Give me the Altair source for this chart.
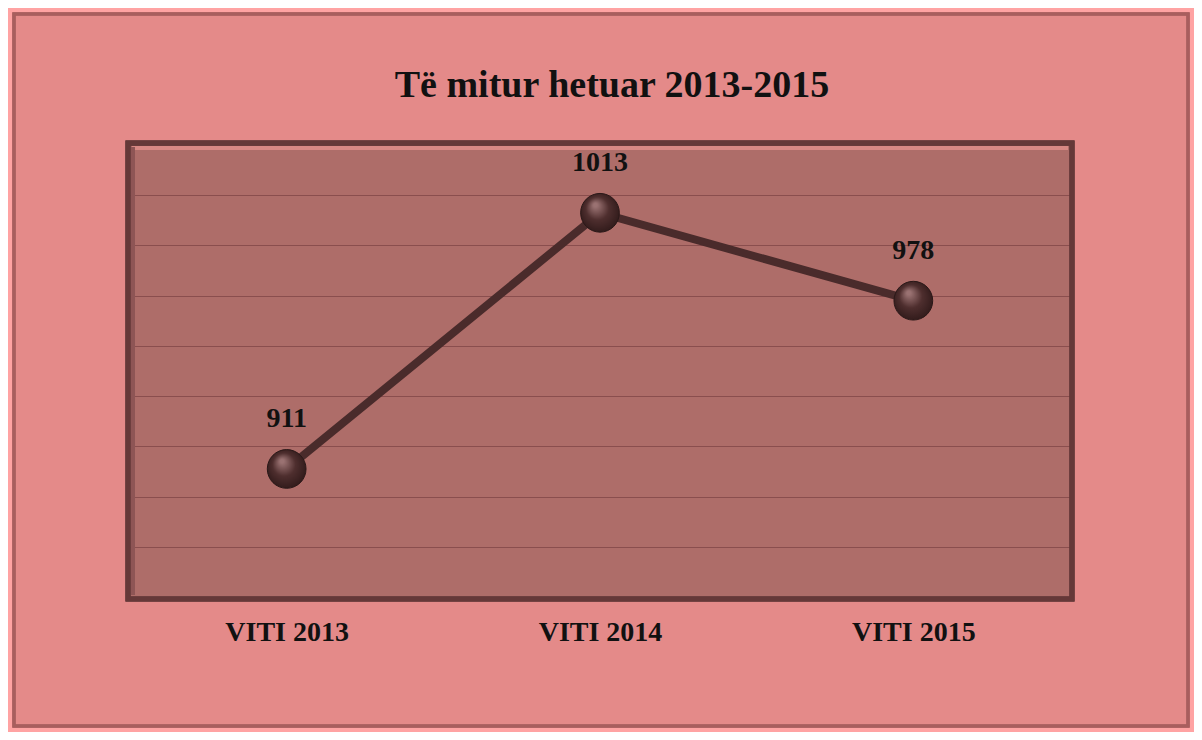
import altair as alt
import pandas as pd

years = ["VITI 2013", "VITI 2014", "VITI 2015"]
values = [911, 1013, 978]
title_text = "Të mitur hetuar 2013-2015"

df = pd.DataFrame({"year": years, "value": values})

SERIF = "Liberation Serif"

x = alt.X("year:N", sort=years, title=None,
          scale=alt.Scale(type="point", padding=0.5),
          axis=alt.Axis(labelFont=SERIF, labelFontSize=28, labelFontWeight="bold",
                        labelColor="#111111", labelPadding=21, ticks=False, domain=False,
                        labelAngle=0, grid=False))
y = alt.Y("value:Q", title=None,
          scale=alt.Scale(domain=[860, 1040], nice=False, zero=False),
          axis=alt.Axis(values=list(range(860, 1041, 20)), labels=False, ticks=False,
                        domain=False, grid=True, gridColor="#8A4E4E", gridWidth=1.2))

base = alt.Chart(df)

line = base.mark_line(color="#4A2B2B", strokeWidth=8).encode(x=x, y=y)

sphere = alt.RadialGradient(
    gradient="radial",
    x1=0.38, y1=0.3, r1=0.05,
    x2=0.5, y2=0.5, r2=0.6,
    stops=[alt.GradientStop(offset=0, color="#9A7272"),
           alt.GradientStop(offset=0.45, color="#4E2E2E"),
           alt.GradientStop(offset=1, color="#2A1616")],
)
points = base.mark_point(filled=True, fill=sphere, opacity=1, size=1500,
                         stroke="#2A1818", strokeWidth=1).encode(x=x, y=y)

labels = base.mark_text(dy=-50, font=SERIF, fontSize=28, fontWeight="bold",
                        color="#111111").encode(x=x, y=y, text=alt.Text("value:Q"))

# decorative bevel of the plot frame
frame_dark = alt.Chart(df).mark_rect(fill=None, stroke="#653838", strokeWidth=5).encode(
    x=alt.value(-2), x2=alt.value(942), y=alt.value(-2), y2=alt.value(454))
frame_light = alt.Chart(df).mark_rule(color="#D88884", strokeWidth=4).encode(
    x=alt.value(2), x2=alt.value(938), y=alt.value(3), y2=alt.value(3))
frame_left = alt.Chart(df).mark_rule(color="#8E5555", strokeWidth=4).encode(
    x=alt.value(3), x2=alt.value(3), y=alt.value(2), y2=alt.value(450))

# decorative bevel of the outer frame
outer_light = alt.Chart(df).mark_rect(fill=None, stroke="#FFA3A3", strokeWidth=6).encode(
    x=alt.value(-121), x2=alt.value(1063), y=alt.value(-136), y2=alt.value(586))
outer_dark = alt.Chart(df).mark_rect(fill=None, stroke="#A85E5E", strokeWidth=3).encode(
    x=alt.value(-116), x2=alt.value(1058), y=alt.value(-131), y2=alt.value(581))

chart = alt.layer(outer_light, outer_dark, frame_dark, frame_light, frame_left,
                  line, points, labels).properties(
    width=940,
    height=452,
    autosize=alt.AutoSizeParams(type="none"),
    padding={"left": 122, "top": 137, "right": 124, "bottom": 135},
    background="#E48A89",
    title=alt.TitleParams(title_text, font=SERIF, fontSize=38, fontWeight="bold",
                          color="#111111", anchor="middle", frame="group", offset=-99, dx=12),
).configure_view(fill="#AE6D69", stroke=None)

chart.save("out.html", embed_options={"renderer": "svg", "actions": False})
